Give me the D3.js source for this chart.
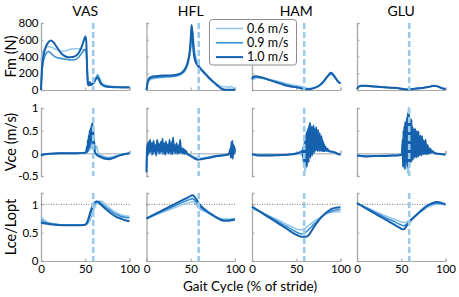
<!DOCTYPE html>
<html>
<head>
<meta charset="utf-8">
<script src="https://cdn.jsdelivr.net/npm/d3@7"></script>
<style>
  body { margin: 0; background: #fff; }
  text { font-family: Lato, "Open Sans", sans-serif; fill: #000; }
</style>
</head>
<body>
<div id="container"></div>
<script>
/* DATA */
const muscles = ["VAS", "HFL", "HAM", "GLU"];
const speeds = ["0.6 m/s", "0.9 m/s", "1.0 m/s"];
const rowLabels = ["Fm (N)", "Vce (m/s)", "Lce/Lopt"];
const toeOff = 59;
const xTicks = [0, 50, 100];
const fmTicks = [0, 200, 400, 600, 800];
const vceTicks = [-0.5, 0, 0.5, 1];
const lceTicks = [0, 0.5, 1];

// each array: [0.6 m/s, 0.9 m/s, 1.0 m/s], points are [% stride, value]
const vasFm = [
  [[0,350],[2,460],[5,500],[8,520],[12,510],[16,490],[21,470],[26,465],[31,480],[36,490],[41,495],[45,485],[49,478],[51,470],[52,300],[53,90],[55,80],[58,80],[61,120],[63,170],[64,190],[66,150],[68,100],[72,60],[80,45],[90,38],[100,38]],
  [[0,0],[1,200],[3,360],[6,440],[9,460],[12,430],[16,395],[22,378],[28,368],[34,358],[38,362],[42,385],[46,440],[49,478],[51,485],[52,300],[53,80],[55,60],[57,75],[60,100],[62,140],[64,170],[66,130],[68,80],[72,50],[80,38],[90,32],[100,32]],
  [[0,0],[1,250],[3,420],[5,500],[8,565],[11,590],[14,570],[18,510],[22,450],[26,410],[31,390],[36,395],[41,420],[45,490],[48,580],[50,638],[51,600],[52,300],[53,70],[54,55],[55,95],[56,60],[58,70],[60,90],[62,130],[64,150],[66,110],[68,70],[72,45],[78,35],[85,32],[92,30],[100,30]]
];
const hflFm = [
  [[0,0],[1,60],[3,110],[6,130],[10,140],[15,145],[20,150],[25,152],[30,158],[35,168],[40,190],[44,235],[47,310],[49,410],[51,560],[52.5,690],[53.5,560],[55,420],[57,330],[60,280],[64,230],[68,185],[72,140],[77,90],[82,55],[86,38],[90,40],[94,30],[96,45],[98,25],[100,20]],
  [[0,0],[1,70],[3,125],[6,145],[10,150],[15,155],[20,160],[25,162],[30,165],[35,175],[40,200],[44,250],[47,340],[49,460],[50.5,600],[51.5,740],[52.5,620],[54,460],[56,350],[59,290],[63,235],[67,190],[71,145],[76,95],[81,50],[85,18],[88,5],[91,2],[100,2]],
  [[0,0],[1,80],[3,140],[6,160],[10,165],[15,170],[20,172],[25,172],[30,175],[35,185],[40,210],[44,260],[47,350],[49,480],[50,620],[51,775],[52,650],[53,480],[55,350],[58,290],[62,240],[66,195],[70,150],[75,100],[80,55],[84,20],[87,5],[90,2],[100,2]]
];
const hamFm = [
  [[0,110],[2,130],[5,140],[10,140],[15,135],[20,125],[25,115],[30,102],[35,88],[40,74],[45,62],[50,55],[55,45],[60,28],[65,20],[70,28],[75,50],[80,90],[84,140],[87,175],[89,185],[91,178],[94,140],[97,100],[100,75]],
  [[0,125],[2,148],[5,155],[10,148],[15,135],[20,120],[25,105],[30,90],[35,73],[40,57],[45,45],[50,36],[55,25],[60,15],[65,15],[70,25],[75,48],[80,92],[84,145],[87,180],[89,195],[91,185],[94,145],[97,105],[100,80]],
  [[0,135],[2,160],[5,163],[10,152],[15,137],[20,118],[25,100],[30,82],[35,65],[40,50],[45,40],[50,34],[55,22],[60,8],[65,10],[70,22],[75,45],[80,90],[84,145],[87,185],[89,205],[91,195],[94,150],[97,105],[100,80]]
];
const gluFm = [
  [[0,12],[2,38],[5,46],[10,46],[20,40],[30,32],[40,26],[48,20],[53,13],[57,8],[62,12],[68,20],[74,27],[80,36],[84,44],[87,48],[90,44],[94,32],[97,20],[100,12]],
  [[0,10],[2,40],[5,48],[10,48],[20,41],[30,33],[40,26],[48,19],[53,11],[57,6],[62,11],[68,19],[74,26],[80,35],[84,44],[87,49],[90,45],[94,31],[97,19],[100,11]],
  [[0,10],[2,42],[5,52],[10,51],[20,43],[30,34],[40,27],[48,19],[53,10],[57,5],[62,10],[68,18],[74,25],[80,35],[84,45],[87,51],[90,46],[94,30],[97,18],[100,10]]
];

const vasVce = [
  [[0,-0.06],[3,-0.03],[10,-0.01],[20,0],[40,0],[50,0.01],[53,0.05],[54,0.15],[55,0.05],[56,0.25],[57,0.1],[58,0.35],[59,0.15],[60,0.3],[61,0.05],[62,0.12],[63,0.17],[64,0.05],[66,-0.02],[70,-0.06],[75,-0.09],[80,-0.08],[87,-0.05],[94,-0.02],[100,0]],
  [[0,-0.04],[5,-0.02],[10,-0.01],[20,0],[30,0],[40,0],[49,0.01],[51,0.02],[52,0.1],[52.5,0.02],[53,0.22],[53.5,0.05],[54,0.3],[54.5,0.1],[55,0.4],[55.5,0.12],[56,0.48],[56.5,0.2],[57,0.55],[57.5,0.25],[58,0.5],[58.5,0.2],[59,0.4],[59.5,0.1],[60,0.15],[61,0.02],[63,-0.02],[67,-0.06],[72,-0.1],[77,-0.11],[82,-0.09],[88,-0.05],[94,-0.02],[100,0]],
  [[0,-0.05],[2,-0.03],[5,-0.02],[10,-0.01],[20,0],[30,0],[40,0],[48,0.01],[51,0.02],[52,0.15],[52.5,0.05],[53,0.3],[53.5,0.1],[54,0.4],[54.5,0.15],[55,0.5],[55.5,0.2],[56,0.55],[56.5,0.25],[57,0.62],[57.5,0.3],[58,0.68],[58.5,0.35],[59,0.6],[59.5,0.2],[60,0.3],[60.5,0.05],[61,0.02],[63,-0.03],[67,-0.08],[72,-0.12],[77,-0.13],[82,-0.1],[88,-0.05],[94,-0.02],[100,0]]
];
const hflVce = [
  [[0,-0.2],[1,0.12],[2.5,0.02],[3.5,0.18],[5,0.0],[6.5,0.2],[8,0.02],[9.5,0.15],[11,-0.02],[12.5,0.2],[14,0.04],[15.5,0.16],[17,0.0],[18.5,0.22],[20,0.03],[21.5,0.17],[23,0.0],[24.5,0.2],[26,0.02],[27.5,0.15],[29,0.0],[30.5,0.18],[32,0.02],[33.5,0.14],[35,0.0],[36.5,0.12],[38,0.02],[40,0.08],[43,0.02],[47,-0.02],[52,-0.06],[57,-0.1],[62,-0.11],[70,-0.08],[80,-0.05],[90,-0.03],[94,-0.02],[96,0.1],[97,-0.05],[98,0.15],[99,0.0],[100,0.05]],
  [[0,-0.3],[1,0.15],[2,0.0],[3,0.22],[4,0.02],[5,0.18],[6,-0.03],[7,0.24],[8,0.03],[9,0.16],[10,0.0],[11,0.2],[12,0.02],[13,0.25],[14,0.0],[15,0.18],[16,0.04],[17,0.22],[18,-0.02],[19,0.2],[20,0.03],[22,0.24],[23,0.0],[24,0.2],[25,0.02],[26,0.18],[27,-0.02],[28,0.26],[29,0.03],[30,0.15],[31,0.0],[32,0.2],[33,0.02],[34,0.14],[35,-0.02],[36,0.18],[37,0.0],[38,0.12],[40,0.02],[42,0.08],[44,0.0],[47,-0.03],[52,-0.08],[57,-0.12],[62,-0.12],[70,-0.09],[80,-0.05],[90,-0.03],[94,-0.01],[95.5,0.15],[96,-0.08],[97,0.22],[97.5,-0.05],[98.5,0.18],[99,-0.02],[100,0.08]],
  [[0,-0.42],[0.5,0.05],[1,0.2],[1.5,-0.05],[2,0.25],[3,0.02],[4,0.3],[5,0.05],[6,0.22],[7,-0.02],[8,0.28],[9,0.04],[10,0.18],[11,-0.05],[12,0.3],[13,0.06],[14,0.2],[15,0.0],[16,0.25],[17,0.05],[18,0.32],[19,0.02],[20,0.22],[21,-0.03],[22,0.26],[23,0.05],[24,0.18],[25,0.0],[26,0.3],[27,0.04],[28,0.2],[29,-0.02],[30,0.35],[31,0.05],[32,0.18],[33,0.0],[34,0.22],[35,0.03],[36,0.15],[37,0.0],[38,0.3],[39,0.02],[40,0.12],[41,0.0],[42,0.1],[43,-0.01],[44,0.06],[46,0.0],[50,-0.06],[55,-0.12],[58,-0.14],[62,-0.13],[70,-0.1],[80,-0.06],[88,-0.04],[93,-0.02],[95,0.1],[95.5,-0.1],[96,0.25],[96.5,-0.05],[97,0.28],[97.5,-0.12],[98,0.2],[98.5,0.0],[99,0.15],[100,0.05]]
];
const hamVce = [
  [[0,-0.03],[10,-0.05],[20,-0.05],[30,-0.04],[40,-0.03],[50,0],[54,0.02],[56,-0.05],[57,0.1],[57.5,-0.2],[58,0.05],[58.5,-0.3],[59,0.1],[59.5,-0.38],[60,0.2],[60.5,-0.4],[61,0.15],[61.5,-0.3],[62,0.3],[62.5,-0.25],[63,0.25],[63.5,-0.1],[64,0.4],[65,-0.05],[66,0.45],[67,0.0],[68,0.35],[69,0.05],[70,0.38],[71,0.05],[72,0.3],[73,0.1],[74,0.28],[75,0.05],[76,0.25],[78,0.05],[80,0.15],[82,0.05],[85,0.06],[90,0.03],[95,0.0],[100,-0.02]],
  [[0,-0.02],[10,-0.04],[20,-0.04],[30,-0.04],[40,-0.03],[50,0],[55,0.03],[57,0.02],[58,0.15],[58.5,-0.15],[59,0.25],[59.5,-0.2],[60,0.3],[60.5,-0.1],[61,0.4],[61.5,-0.2],[62,0.45],[62.5,0.0],[63,0.5],[63.5,-0.1],[64,0.55],[64.5,0.05],[65,0.5],[65.5,0.0],[66,0.55],[66.5,0.1],[67,0.48],[67.5,0.0],[68,0.5],[68.5,0.1],[69,0.45],[69.5,0.05],[70,0.5],[71,0.1],[72,0.45],[73,0.08],[74,0.42],[75,0.1],[76,0.38],[77,0.08],[78,0.3],[79,0.06],[80,0.22],[81,0.05],[82,0.15],[84,0.06],[87,0.04],[92,0.02],[96,-0.01],[100,-0.03]],
  [[0,-0.02],[5,-0.04],[10,-0.05],[20,-0.05],[30,-0.04],[40,-0.03],[50,-0.01],[55,0.03],[57,0.05],[58,-0.1],[58.5,0.15],[59,-0.2],[59.5,0.2],[60,-0.25],[60.5,0.3],[61,-0.15],[61.5,0.45],[62,-0.3],[62.5,0.5],[63,-0.1],[63.5,0.55],[64,-0.2],[64.5,0.62],[65,0.0],[65.5,0.68],[66,-0.1],[66.5,0.55],[67,0.05],[67.5,0.6],[68,-0.05],[68.5,0.5],[69,0.1],[69.5,0.62],[70,0.0],[70.5,0.55],[71,0.1],[71.5,0.5],[72,0.05],[72.5,0.58],[73,0.1],[73.5,0.45],[74,0.05],[74.5,0.52],[75,0.1],[75.5,0.4],[76,0.05],[76.5,0.45],[77,0.1],[77.5,0.35],[78,0.05],[78.5,0.38],[79,0.08],[79.5,0.3],[80,0.05],[80.5,0.25],[81,0.05],[81.5,0.2],[82,0.05],[83,0.15],[84,0.06],[85,0.1],[87,0.05],[90,0.04],[94,0.02],[97,-0.01],[100,-0.03]]
];
const gluVce = [
  [[0,-0.04],[10,-0.05],[20,-0.05],[30,-0.05],[40,-0.04],[50,-0.03],[52,0.15],[53,-0.3],[54,0.4],[55,-0.35],[56,0.5],[57,-0.45],[58,0.7],[58.5,-0.5],[59,0.95],[59.5,-0.3],[60,0.6],[61,-0.2],[62,0.5],[63,-0.15],[64,0.4],[65,-0.1],[66,0.42],[67,-0.05],[68,0.3],[69,-0.02],[70,0.25],[72,0.0],[74,0.22],[76,0.0],[78,0.18],[80,0.02],[82,0.12],[84,0.0],[87,0.02],[92,-0.01],[100,-0.02]],
  [[0,-0.05],[10,-0.06],[20,-0.06],[30,-0.05],[40,-0.05],[50,-0.03],[51.5,0.2],[52,-0.2],[52.5,0.35],[53,-0.25],[53.5,0.5],[54,-0.15],[54.5,0.55],[55,-0.25],[55.5,0.6],[56,-0.1],[56.5,0.7],[57,-0.2],[57.5,0.75],[58,-0.25],[58.5,0.85],[59,-0.1],[59.5,0.7],[60,-0.15],[60.5,0.55],[61,-0.1],[62,0.5],[62.5,-0.1],[63.5,0.45],[64,-0.05],[65,0.45],[65.5,-0.05],[66.5,0.4],[67,-0.05],[68,0.38],[69,-0.03],[70,0.35],[71,0.0],[72,0.3],[73,0.0],[74,0.26],[75,0.0],[76,0.22],[77,0.0],[78,0.2],[79,0.0],[80,0.14],[82,0.02],[84,0.06],[87,0.0],[92,-0.01],[100,-0.02]],
  [[0,-0.05],[5,-0.06],[10,-0.07],[20,-0.06],[30,-0.06],[40,-0.05],[48,-0.04],[51,-0.03],[51.5,0.3],[52,-0.3],[52.5,0.5],[53,-0.2],[53.5,0.6],[54,-0.35],[54.5,0.7],[55,-0.1],[55.5,0.65],[56,-0.2],[56.5,0.8],[57,-0.3],[57.5,0.9],[58,-0.15],[58.5,1.0],[59,-0.2],[59.5,0.8],[60,-0.1],[60.5,0.6],[61,-0.2],[61.5,0.75],[62,-0.1],[62.5,0.6],[63,-0.15],[63.5,0.55],[64,-0.05],[64.5,0.5],[65,-0.1],[65.5,0.55],[66,-0.05],[66.5,0.45],[67,-0.1],[67.5,0.5],[68,0.0],[68.5,0.4],[69,-0.08],[69.5,0.48],[70,0.0],[70.5,0.35],[71,-0.05],[71.5,0.4],[72,0.0],[72.5,0.3],[73,-0.05],[73.5,0.38],[74,0.02],[74.5,0.3],[75,-0.02],[75.5,0.28],[76,0.0],[76.5,0.25],[77,-0.02],[77.5,0.3],[78,0.0],[78.5,0.2],[79,-0.02],[80,0.18],[80.5,0.0],[81,0.12],[82,0.0],[83,0.1],[84,0.02],[85,0.05],[88,0.0],[92,-0.01],[96,-0.02],[100,-0.03]]
];

const vasLce = [
  [[0,0.79],[3,0.74],[6,0.7],[10,0.67],[20,0.645],[30,0.635],[40,0.635],[48,0.635],[52,0.65],[55,0.7],[58,0.82],[60,0.92],[62,0.99],[64,1.04],[66,1.06],[69,1.05],[73,1.0],[78,0.93],[83,0.87],[88,0.83],[94,0.8],[100,0.79]],
  [[0,0.73],[5,0.68],[10,0.66],[20,0.64],[30,0.63],[40,0.63],[48,0.63],[51,0.65],[53,0.7],[55,0.78],[57,0.88],[59,0.96],[61,1.02],[63,1.05],[66,1.04],[70,0.99],[75,0.93],[80,0.87],[85,0.82],[90,0.79],[95,0.77],[100,0.76]],
  [[0,0.68],[5,0.66],[10,0.65],[20,0.635],[30,0.63],[40,0.63],[48,0.635],[51,0.65],[53,0.72],[55,0.82],[57,0.92],[59,0.99],[61,1.04],[63,1.05],[66,1.02],[70,0.96],[75,0.89],[80,0.83],[85,0.78],[90,0.75],[95,0.72],[100,0.70]]
];
const hflLce = [
  [[0,0.75],[10,0.81],[20,0.87],[30,0.93],[40,0.99],[48,1.03],[52,1.05],[54,1.03],[57,0.97],[60,0.92],[65,0.88],[70,0.84],[75,0.8],[80,0.77],[85,0.75],[88,0.74],[92,0.74],[96,0.74],[100,0.75]],
  [[0,0.75],[10,0.82],[20,0.89],[30,0.96],[40,1.03],[48,1.08],[52,1.1],[54,1.08],[57,1.02],[60,0.96],[65,0.9],[70,0.85],[75,0.8],[80,0.76],[85,0.73],[88,0.72],[92,0.72],[96,0.73],[100,0.74]],
  [[0,0.75],[10,0.83],[20,0.91],[30,0.99],[40,1.07],[48,1.13],[52,1.16],[54,1.14],[57,1.07],[60,1.0],[65,0.92],[70,0.86],[75,0.81],[80,0.76],[85,0.72],[88,0.71],[92,0.71],[96,0.72],[100,0.73]]
];
const hamLce = [
  [[0,0.92],[10,0.86],[20,0.79],[30,0.72],[40,0.64],[48,0.58],[53,0.55],[56,0.55],[60,0.58],[65,0.64],[70,0.7],[75,0.75],[80,0.8],[85,0.84],[90,0.86],[95,0.87],[100,0.87]],
  [[0,0.95],[10,0.87],[20,0.78],[30,0.69],[40,0.6],[48,0.53],[53,0.49],[57,0.48],[60,0.5],[65,0.57],[70,0.65],[75,0.72],[80,0.79],[85,0.85],[90,0.88],[95,0.9],[100,0.91]],
  [[0,0.96],[10,0.86],[20,0.76],[30,0.66],[40,0.56],[48,0.48],[52,0.45],[56,0.43],[60,0.43],[63,0.44],[66,0.5],[70,0.6],[75,0.71],[80,0.8],[85,0.87],[90,0.92],[95,0.94],[100,0.95]]
];
const gluLce = [
  [[0,1.02],[10,0.95],[20,0.88],[30,0.81],[40,0.75],[48,0.7],[53,0.68],[57,0.7],[60,0.73],[65,0.79],[70,0.85],[75,0.9],[80,0.95],[85,0.98],[90,1.0],[95,1.0],[100,0.99]],
  [[0,1.02],[10,0.94],[20,0.86],[30,0.78],[40,0.71],[48,0.65],[53,0.62],[56,0.65],[60,0.71],[65,0.79],[70,0.86],[75,0.93],[80,0.98],[85,1.01],[90,1.02],[95,1.01],[100,1.0]],
  [[0,1.02],[10,0.93],[20,0.84],[30,0.75],[40,0.66],[48,0.59],[51,0.56],[53,0.56],[56,0.62],[60,0.7],[65,0.78],[70,0.85],[75,0.92],[80,0.98],[85,1.02],[90,1.04],[95,1.03],[100,1.0]]
];

/* CONSTANTS AND GLOBALS */
const width = 459, height = 297;
const colors = ["#93c6e8", "#3a8fd3", "#1561ad"];
const lineWidths = [1.5, 1.6, 2];
const axisGray = "#a8a8a8";
const colLeft = [41, 146.5, 252, 357], colWidth = 88.5;
const rows = [
  { domain: [0, 800], range: [90, 23], ticks: fmTicks, fmt: d => d, data: [vasFm, hflFm, hamFm, gluFm], xAt: 0 },
  { domain: [-0.5, 1], range: [176, 108], ticks: vceTicks, fmt: d => String(d), data: [vasVce, hflVce, hamVce, gluVce], xAt: 0 },
  { domain: [0, 1.2], range: [261, 193], ticks: lceTicks, fmt: d => String(d), data: [vasLce, hflLce, hamLce, gluLce], xAt: 0, dotted: 1 }
];

const svg = d3.select("#container")
  .append("svg")
  .attr("width", width)
  .attr("height", height)
  .style("background", "#fff");

rows.forEach((row, r) => {
  const yScale = d3.scaleLinear().domain(row.domain).range(row.range);

  muscles.forEach((m, c) => {
    const xScale = d3.scaleLinear().domain([0, 100]).range([colLeft[c], colLeft[c] + colWidth]);
    const g = svg.append("g");

    // x axis (at zero)
    const xAxis = d3.axisBottom(xScale).tickValues(xTicks).tickSize(-2.5).tickPadding(4)
      .tickFormat(r === 2 ? d => d : "");
    const gx = g.append("g")
      .attr("transform", `translate(0,${yScale(row.xAt)})`)
      .call(xAxis);
    gx.select(".domain").attr("stroke", axisGray);
    gx.selectAll(".tick line").attr("stroke", axisGray);
    gx.selectAll("text").style("font-size", "11.5px").attr("fill", "#000");

    // y axis
    const yAxis = d3.axisLeft(yScale).tickValues(row.ticks).tickSize(-2.5).tickPadding(2.5)
      .tickFormat(c === 0 ? row.fmt : "");
    const gy = g.append("g")
      .attr("transform", `translate(${colLeft[c]},0)`)
      .call(yAxis);
    gy.select(".domain").attr("stroke", axisGray).attr("stroke-width", 1.3);
    gy.selectAll(".tick line").attr("stroke", axisGray);
    gy.selectAll("text").style("font-size", "11.5px").attr("fill", "#000");

    if (row.dotted) {
      g.append("line")
        .attr("x1", xScale(0)).attr("x2", xScale(100))
        .attr("y1", yScale(row.dotted)).attr("y2", yScale(row.dotted))
        .attr("stroke", "#555").attr("stroke-width", 0.8)
        .attr("stroke-dasharray", "1,1.5");
    }

    const line = d3.line()
      .x(d => xScale(d[0]))
      .y(d => yScale(d[1]))
      .curve(d3.curveMonotoneX);

    row.data[c].forEach((series, i) => {
      g.append("path")
        .datum(series)
        .attr("d", line)
        .attr("fill", "none")
        .attr("stroke", colors[i])
        .attr("stroke-width", lineWidths[i])
        .attr("stroke-linejoin", "round");
    });

    // toe-off
    g.append("line")
      .attr("x1", xScale(toeOff)).attr("x2", xScale(toeOff))
      .attr("y1", row.range[1]).attr("y2", row.range[0])
      .attr("stroke", "#9ccbea").attr("stroke-width", 2.6)
      .attr("stroke-dasharray", "6,3");

    if (r === 0) {
      svg.append("text")
        .attr("x", colLeft[c] + colWidth / 2)
        .attr("y", 16)
        .attr("text-anchor", "middle")
        .style("font-size", "14px")
        .text(m);
    }
  });

  svg.append("text")
    .attr("transform", `translate(15.5,${(row.range[0] + row.range[1]) / 2}) rotate(-90)`)
    .attr("text-anchor", "middle")
    .style("font-size", "14.5px")
    .text(rowLabels[r]);
});

svg.append("text")
  .attr("x", 250)
  .attr("y", 291)
  .attr("text-anchor", "middle")
  .style("font-size", "13.5px")
  .text("Gait Cycle (% of stride)");

/* LEGEND */
const legend = svg.append("g");
legend.append("rect")
  .attr("x", 209.5).attr("y", 19.5)
  .attr("width", 87).attr("height", 45.5)
  .attr("rx", 3)
  .attr("fill", "#fff")
  .attr("stroke", "#8c8c8c");
speeds.forEach((s, i) => {
  const yy = 28.5 + i * 14.3;
  legend.append("line")
    .attr("x1", 216).attr("x2", 243)
    .attr("y1", yy).attr("y2", yy)
    .attr("stroke", colors[i]).attr("stroke-width", lineWidths[i]);
  legend.append("text")
    .attr("x", 247).attr("y", yy)
    .attr("dy", "0.35em")
    .style("font-size", "12.5px")
    .text(s);
});
</script>
</body>
</html>
